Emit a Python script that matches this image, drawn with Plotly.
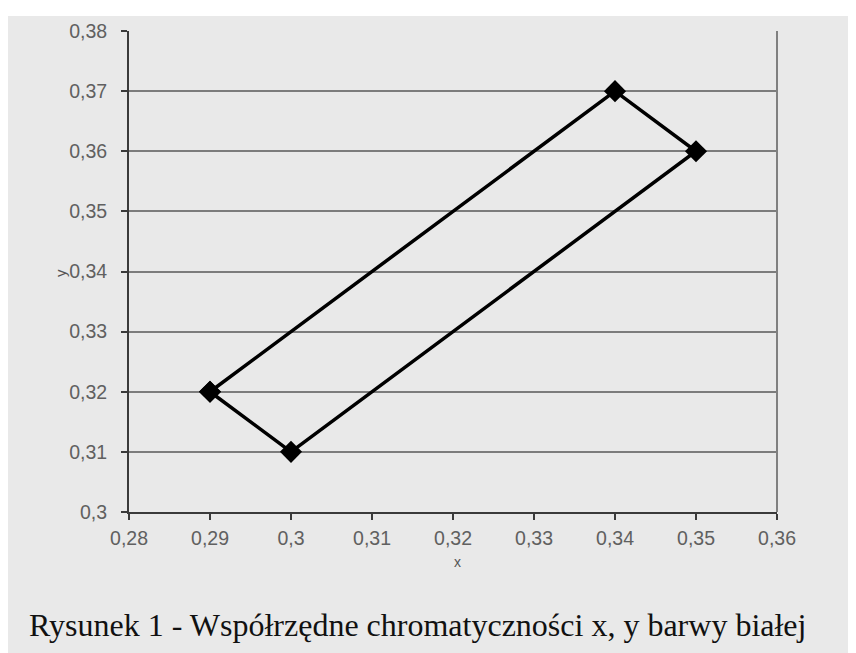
import plotly.graph_objects as go

# Data
x_vals = [0.29, 0.30, 0.35, 0.34, 0.29]
y_vals = [0.32, 0.31, 0.36, 0.37, 0.32]
x_ticks = [0.28, 0.29, 0.30, 0.31, 0.32, 0.33, 0.34, 0.35, 0.36]
x_tick_labels = ["0,28", "0,29", "0,3", "0,31", "0,32", "0,33", "0,34", "0,35", "0,36"]
y_ticks = [0.30, 0.31, 0.32, 0.33, 0.34, 0.35, 0.36, 0.37, 0.38]
y_tick_labels = ["0,3", "0,31", "0,32", "0,33", "0,34", "0,35", "0,36", "0,37", "0,38"]
caption = "Rysunek 1 - Współrzędne chromatyczności x, y barwy białej"

OFF = 8  # page body margin
W, H = 856 - OFF, 653 - OFF
L, R, T = 129 - OFF, 79, 27 - OFF
ph = 485
B = H - T - ph
pw = W - L - R
BG = "#e9e9e9"


def px_x(x):  # page x -> paper fraction
    return (x - OFF - L) / pw


def px_y(y):  # page y -> paper fraction
    return (T + ph - (y - OFF)) / ph


fig = go.Figure()
fig.add_trace(go.Scatter(
    x=x_vals, y=y_vals, mode="lines+markers",
    line=dict(color="black", width=3.5),
    marker=dict(symbol="diamond", size=17, color="black"),
    showlegend=False, hoverinfo="skip",
))

tickfont = dict(family="Liberation Sans, Arial", size=19.5, color="#606060")

fig.update_layout(
    width=W, height=H,
    margin=dict(l=L, r=R, t=T, b=B),
    paper_bgcolor="white", plot_bgcolor=BG,
    shapes=[
        dict(type="rect", xref="paper", yref="paper", layer="below",
             x0=px_x(7), x1=px_x(870), y0=px_y(680), y1=px_y(12),
             fillcolor=BG, line=dict(width=0)),
        dict(type="line", xref="paper", yref="paper", x0=1, x1=1, y0=0, y1=1,
             line=dict(color="#808080", width=2)),
    ],
    xaxis=dict(
        range=[0.28, 0.36], tickvals=x_ticks, ticktext=x_tick_labels,
        showgrid=False, zeroline=False,
        showline=True, linecolor="#3a3a3a", linewidth=2,
        ticks="outside", ticklen=6, tickwidth=2, tickcolor="#3a3a3a",
        ticklabelstandoff=2,
        tickfont=tickfont,
    ),
    yaxis=dict(
        range=[0.30, 0.38], tickvals=y_ticks, ticktext=y_tick_labels,
        showgrid=True, gridcolor="#7c7c7c", gridwidth=2, zeroline=False,
        showline=True, linecolor="#3a3a3a", linewidth=2,
        ticks="outside", ticklen=6, tickwidth=2, tickcolor="#3a3a3a",
        ticklabelstandoff=10,
        tickfont=tickfont,
    ),
    annotations=[
        dict(text="x", xref="paper", yref="paper", x=px_x(457), y=px_y(562),
             showarrow=False, xanchor="center", yanchor="middle",
             font=dict(family="Liberation Sans, Arial", size=14, color="#555555")),
        dict(text="y", xref="paper", yref="paper", x=px_x(61), y=px_y(271),
             showarrow=False, xanchor="center", yanchor="middle", textangle=-90,
             font=dict(family="Liberation Sans, Arial", size=15, color="#555555")),
        dict(text=caption, xref="paper", yref="paper", x=px_x(27), y=px_y(626),
             showarrow=False, xanchor="left", yanchor="middle",
             font=dict(family="Liberation Serif, Times New Roman", size=32, color="#111111")),
    ],
)

fig.write_html("out.html")
